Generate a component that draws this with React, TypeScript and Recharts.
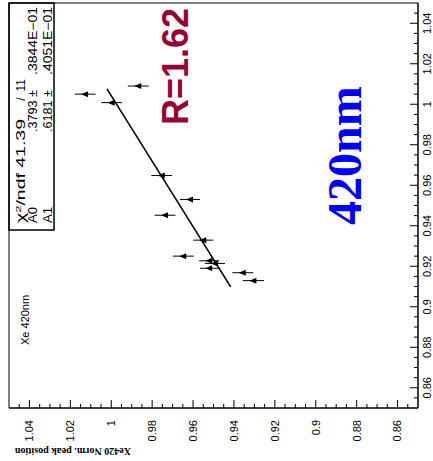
import {
  ScatterChart,
  Scatter,
  XAxis,
  YAxis,
  ErrorBar,
  ReferenceArea,
  Customized,
} from 'recharts';

// rotated plot: bottom axis = normalised peak position, right axis = reference value
const refValue = [1.005, 1.0008, 1.009, 0.9648, 0.953, 0.9452, 0.9329, 0.925, 0.9227, 0.9214, 0.919, 0.9168, 0.9129];
const peakPos = [1.0128, 0.9998, 0.9868, 0.9753, 0.9615, 0.9737, 0.955, 0.9648, 0.9521, 0.9493, 0.9521, 0.9357, 0.9305];
const peakErr = [0.0051, 0.0051, 0.0051, 0.0051, 0.0049, 0.0051, 0.0049, 0.0051, 0.0049, 0.0049, 0.0045, 0.0051, 0.0052];

// fit y = A0 + A1 x, evaluated at the ends of the drawn range
const fitRef = [0.9098, 1.0076];
const fitPeak = [0.9416, 1.0021];

const AXIS_TICKS = [
  0.855, 0.86, 0.865, 0.87, 0.875, 0.88, 0.885, 0.89, 0.895, 0.9, 0.905, 0.91, 0.915,
  0.92, 0.925, 0.93, 0.935, 0.94, 0.945, 0.95, 0.955, 0.96, 0.965, 0.97, 0.975, 0.98,
  0.985, 0.99, 0.995, 1, 1.005, 1.01, 1.015, 1.02, 1.025, 1.03, 1.035, 1.04, 1.045,
];

const points = refValue.map((r, i) => ({ ref: r, peak: peakPos[i], err: peakErr[i] }));
const fitLine = fitRef.map((r, i) => ({ ref: r, peak: fitPeak[i] }));

const SANS = 'Liberation Sans, Arial, sans-serif';
const SERIF = 'Liberation Serif, Times New Roman, serif';

const isMajor = (v: number) => Math.abs(v * 50 - Math.round(v * 50)) < 1e-6;

function BottomTick({ x, y, payload }: any) {
  const v = payload.value;
  const major = isMajor(v);
  return (
    <g>
      <line x1={x} y1={y} x2={x} y2={y - (major ? 8 : 4)} stroke="#000" />
      {major && (
        <g transform={`translate(${x},${y + 12}) rotate(-90)`}>
          <text textAnchor="end" dy="0.35em" fontSize={11} fontFamily={SANS} fill="#000">
            {String(v)}
          </text>
        </g>
      )}
    </g>
  );
}

function RightTick({ x, y, payload }: any) {
  const v = payload.value;
  const major = isMajor(v);
  return (
    <g>
      <line x1={x} y1={y} x2={x - (major ? 8 : 4)} y2={y} stroke="#000" />
      {major && (
        <g transform={`translate(${x + 9},${y}) rotate(-90)`}>
          <text textAnchor="middle" dy="0.35em" fontSize={11} fontFamily={SANS} fill="#000">
            {String(v)}
          </text>
        </g>
      )}
    </g>
  );
}

function Marker({ cx, cy }: any) {
  if (cx == null || cy == null) return <g />;
  return <polygon points={`${cx - 4},${cy} ${cx + 3},${cy - 3} ${cx + 3},${cy + 3}`} fill="#000" />;
}

function rot(x: number, y: number) {
  return `translate(${x},${y}) rotate(-90)`;
}

function Overlay() {
  const st = { fontSize: 12, fontFamily: SANS, fill: '#000' };
  const fit = { lengthAdjust: 'spacingAndGlyphs' as const };
  return (
    <g>
      {/* stats box */}
      <rect x={9} y={3} width={45} height={227} fill="#fff" stroke="#000" strokeWidth={1.5} />
      <text transform={rot(25, 223)} textLength={104} {...fit} {...st}>
        χ<tspan fontSize={8} dy={-4}>2</tspan>
        <tspan dy={4}>/ndf 41.39</tspan>
      </text>
      <text transform={rot(25, 99)} textAnchor="middle" {...st}>/</text>
      <text transform={rot(25, 79)} textAnchor="end" {...st}>11</text>
      <text transform={rot(37, 223)} textLength={16} {...fit} {...st}>A0</text>
      <text transform={rot(37, 90)} textAnchor="end" textLength={42} {...fit} {...st}>.3793 ±</text>
      <text transform={rot(37, 7)} textAnchor="end" textLength={68} {...fit} {...st}>
        .3844E−01
      </text>
      <text transform={rot(52, 223)} textLength={16} {...fit} {...st}>A1</text>
      <text transform={rot(52, 90)} textAnchor="end" textLength={42} {...fit} {...st}>.6181 ±</text>
      <text transform={rot(52, 7)} textAnchor="end" textLength={68} {...fit} {...st}>
        .4051E−01
      </text>

      <text transform={rot(29, 345)} fontSize={11} fontFamily={SANS} fill="#000">Xe 420nm</text>

      <text transform={rot(188, 125)} fontSize={36} fontWeight="bold" fontFamily={SANS} fill="#990033">
        R=1.62
      </text>
      <text transform={rot(361, 225)} fontSize={48} fontWeight="bold" fontFamily={SERIF} fill="#0000ff">
        420nm
      </text>

      <text
        transform="translate(131,448) rotate(180)"
        fontSize={10}
        fontWeight="bold"
        fontFamily={SERIF}
        fill="#000"
      >
        Xe420 Norm. peak position
      </text>
    </g>
  );
}

export default function App() {
  return (
    <div style={{ position: 'absolute', left: 0, top: 0, background: '#fff' }}>
      <ScatterChart width={433} height={461} margin={{ top: 3, right: 0, bottom: 0, left: 9 }}>
        <XAxis
          type="number"
          dataKey="peak"
          domain={[0.85, 1.05]}
          reversed
          ticks={AXIS_TICKS}
          interval={0}
          tick={<BottomTick />}
          tickLine={false}
          tickSize={0}
          tickMargin={0}
          axisLine={{ stroke: '#000' }}
          height={53}
          allowDataOverflow
        />
        <YAxis
          type="number"
          dataKey="ref"
          orientation="right"
          domain={[0.85, 1.05]}
          ticks={AXIS_TICKS}
          interval={0}
          tick={<RightTick />}
          tickLine={false}
          tickSize={0}
          tickMargin={0}
          axisLine={{ stroke: '#000' }}
          width={15}
          allowDataOverflow
        />
        <ReferenceArea x1={1.05} x2={0.85} y1={0.85} y2={1.05} fill="none" stroke="#000" ifOverflow="visible" />
        <Scatter
          data={fitLine}
          line={{ stroke: '#000', strokeWidth: 1.6 }}
          shape={() => <g />}
          isAnimationActive={false}
        />
        <Scatter data={points} shape={<Marker />} isAnimationActive={false}>
          <ErrorBar dataKey="err" direction="x" width={0} stroke="#000" strokeWidth={1} />
        </Scatter>
        <Customized component={Overlay} />
      </ScatterChart>
    </div>
  );
}
